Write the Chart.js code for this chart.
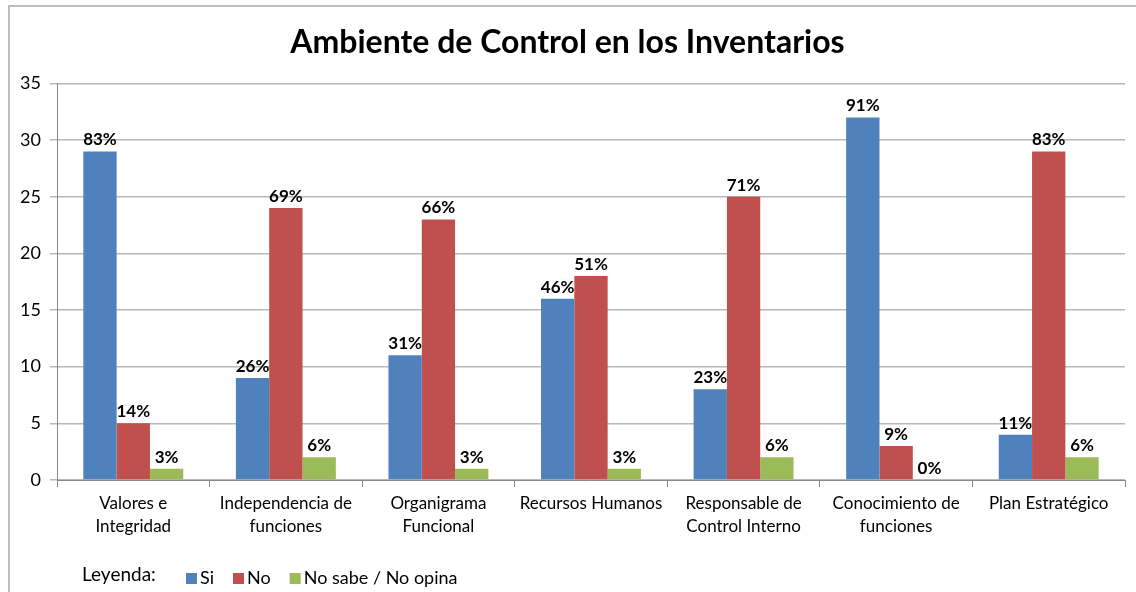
<!DOCTYPE html>
<html>
<head>
<meta charset="utf-8">
<script src="https://cdn.jsdelivr.net/npm/chart.js@4"></script>
<style>
  html, body { margin: 0; padding: 0; background: #fff; }
  #wrap { width: 1136px; height: 592px; }
</style>
</head>
<body>
<div id="wrap"><canvas id="grafica" width="1136" height="592"></canvas></div>
<script>
// datos
const categorias = [
    ['Valores e', 'Integridad'],
    ['Independencia de', 'funciones'],
    ['Organigrama', 'Funcional'],
    'Recursos Humanos',
    ['Responsable de', 'Control Interno'],
    ['Conocimiento de', 'funciones'],
    'Plan Estratégico'
];
const si = [29, 9, 11, 16, 8, 32, 4];
const no = [5, 24, 23, 18, 25, 3, 29];
const noSabe = [1, 2, 1, 1, 2, 0, 2];
const siPct = ['83%', '26%', '31%', '46%', '23%', '91%', '11%'];
const noPct = ['14%', '69%', '66%', '51%', '71%', '9%', '83%'];
const noSabePct = ['3%', '6%', '3%', '3%', '6%', '0%', '6%'];
const ticksY = [0, 5, 10, 15, 20, 25, 30, 35];

const fuente = 'Lato, "Open Sans", sans-serif';
const etiquetas = [siPct, noPct, noSabePct];

// marco gris arriba y a la izquierda
const marco = {
    id: 'marco',
    beforeDraw(chart) {
        const ctx = chart.ctx;
        ctx.save();
        ctx.strokeStyle = '#bdbdbd';
        ctx.lineWidth = 2;
        ctx.beginPath();
        ctx.moveTo(9, 592);
        ctx.lineTo(9, 6);
        ctx.lineTo(1136, 6);
        ctx.stroke();
        ctx.restore();
    }
};

// porcentajes encima de cada barra
const porcentajes = {
    id: 'porcentajes',
    afterDatasetsDraw(chart) {
        const ctx = chart.ctx;
        ctx.save();
        ctx.font = 'bold 17px ' + fuente;
        ctx.fillStyle = '#000';
        ctx.textAlign = 'center';
        ctx.textBaseline = 'bottom';
        chart.data.datasets.forEach((ds, i) => {
            chart.getDatasetMeta(i).data.forEach((bar, j) => {
                ctx.fillText(etiquetas[i][j], bar.x, bar.y - 3);
            });
        });
        ctx.restore();
    }
};

// leyenda abajo a la izquierda
const leyenda = {
    id: 'leyenda',
    afterDraw(chart) {
        const ctx = chart.ctx;
        const y = 578;
        ctx.save();
        ctx.font = '19px ' + fuente;
        ctx.fillStyle = '#000';
        ctx.textBaseline = 'middle';
        ctx.fillText('Leyenda:', 82, y - 3);
        ctx.font = '18px ' + fuente;
        let x = 186;
        chart.data.datasets.forEach(ds => {
            ctx.fillStyle = ds.backgroundColor;
            ctx.fillRect(x, y - 5, 11, 11);
            ctx.fillStyle = '#000';
            ctx.fillText(ds.label, x + 14, y);
            x += 14 + ctx.measureText(ds.label).width + 19;
        });
        ctx.restore();
    }
};

const data = {
    labels: categorias,
    datasets: [
        { label: 'Si', data: si, backgroundColor: '#4F81BD' },
        { label: 'No', data: no, backgroundColor: '#C0504D' },
        { label: 'No sabe / No opina', data: noSabe, backgroundColor: '#9BBB59' }
    ]
};

const config = {
    type: 'bar',
    data: data,
    options: {
        responsive: false,
        animation: false,
        layout: { padding: { left: 10, right: 11, top: 6, bottom: 42 } },
        datasets: { bar: { categoryPercentage: 0.655, barPercentage: 1 } },
        plugins: {
            legend: { display: false },
            tooltip: { enabled: false },
            title: {
                display: true,
                text: 'Ambiente de Control en los Inventarios',
                color: '#000',
                font: { family: fuente, size: 32, weight: 'bold' },
                padding: { top: 17, bottom: 22 }
            }
        },
        scales: {
            x: {
                offset: true,
                grid: { display: true, drawOnChartArea: false, color: '#888', tickLength: 7, offset: true },
                border: { color: '#888' },
                ticks: { color: '#000', font: { family: fuente, size: 17, lineHeight: 1.35 }, padding: 5, maxRotation: 0, autoSkip: false },
                afterFit(scale) { scale.height = 70; }
            },
            y: {
                min: 0,
                max: 35,
                afterBuildTicks(scale) { scale.ticks = ticksY.map(v => ({ value: v })); },
                grid: { color: '#b8b8b8', lineWidth: 1.5, tickLength: 7 },
                border: { color: '#888' },
                ticks: { color: '#000', font: { family: fuente, size: 18 }, padding: 9 },
                afterFit(scale) { scale.width = 47; }
            }
        }
    },
    plugins: [marco, porcentajes, leyenda]
};

new Chart(document.getElementById('grafica'), config);
</script>
</body>
</html>
